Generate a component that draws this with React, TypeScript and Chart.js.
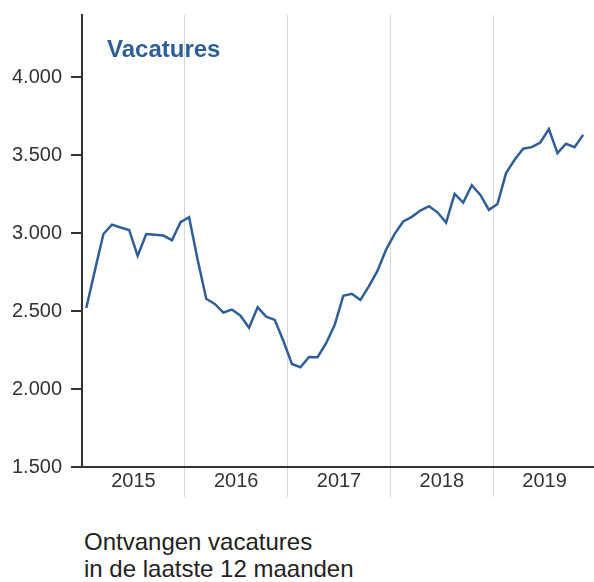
import React, { useEffect, useRef } from 'react';
import { Chart, registerables } from 'chart.js';

Chart.register(...registerables);

const YEARS = ['2015', '2016', '2017', '2018', '2019'];
const MONTHS_TOTAL = 60;
// Monthly values Jan 2015 – Nov 2019
const VACATURES = [
  2520, 2760, 2995, 3055, 3037, 3021, 2855, 2995, 2990, 2985, 2955, 3071,
  3103, 2830, 2579, 2546, 2491, 2510, 2471, 2394, 2525, 2465, 2444, 2310,
  2161, 2140, 2206, 2204, 2294, 2412, 2598, 2611, 2572, 2660, 2760, 2895,
  2996, 3075, 3105, 3145, 3173, 3134, 3068, 3253, 3197, 3308, 3246, 3150,
  3188, 3386, 3471, 3542, 3552, 3582, 3668, 3514, 3574, 3552, 3631,
];
const Y_TICK_VALUES = [1500, 2000, 2500, 3000, 3500, 4000];
const Y_TICK_LABELS = ['1.500', '2.000', '2.500', '3.000', '3.500', '4.000'];
const Y_MIN = 1500;
const Y_MAX = 4400;
const TITLE = 'Vacatures';
const CAPTION = ['Ontvangen vacatures', 'in de laatste 12 maanden'];

const FONT = '"Liberation Sans", Arial, Helvetica, sans-serif';
const BLUE = '#2f5f96';

export default function App() {
  const ref = useRef<HTMLCanvasElement | null>(null);

  useEffect(() => {
    if (!ref.current) return;
    const titlePlugin = {
      id: 'innerTitle',
      afterDraw(chart: any) {
        const ctx = chart.ctx;
        ctx.save();
        ctx.font = `bold 24px ${FONT}`;
        ctx.fillStyle = BLUE;
        ctx.textAlign = 'left';
        ctx.textBaseline = 'alphabetic';
        ctx.fillText(TITLE, 107, 57);
        ctx.restore();
      },
    };
    const chart = new Chart(ref.current, {
      type: 'line',
      data: {
        labels: YEARS,
        datasets: [
          {
            data: VACATURES.map((v, i) => ({ x: i + 0.5, y: v })),
            xAxisID: 'xm',
            yAxisID: 'y',
            borderColor: BLUE,
            borderWidth: 2.5,
            pointRadius: 0,
            tension: 0,
            fill: false,
          },
        ],
      },
      options: {
        animation: false,
        responsive: false,
        maintainAspectRatio: false,
        layout: { padding: { top: 15, left: 0, right: 0, bottom: 0 } },
        plugins: { legend: { display: false }, tooltip: { enabled: false }, title: { display: false } },
        scales: {
          x: {
            type: 'category',
            position: 'bottom',
            offset: true,
            grid: {
              offset: true,
              color: (c: any) => (c.type === 'tick' && c.index > 0 ? '#d8d8d8' : 'rgba(0,0,0,0)'),
              lineWidth: 1,
              tickLength: 30,
              drawTicks: true,
            },
            border: { display: true, color: '#333333', width: 2 },
            ticks: {
              font: { family: FONT, size: 20 },
              color: '#333333',
              padding: -28,
              maxRotation: 0,
            },
            afterFit: (s: any) => {
              s.height = 43;
              s.paddingLeft = 0;
              s.paddingRight = 0;
            },
          },
          xm: {
            type: 'linear',
            display: false,
            min: 0,
            max: MONTHS_TOTAL,
          },
          y: {
            type: 'linear',
            min: Y_MIN,
            max: Y_MAX,
            afterBuildTicks: (s: any) => {
              s.ticks = Y_TICK_VALUES.map((v) => ({ value: v }));
            },
            ticks: {
              font: { family: FONT, size: 20 },
              color: '#333333',
              padding: 9,
              callback: (v: any) => {
                const i = Y_TICK_VALUES.indexOf(Number(v));
                return i >= 0 ? Y_TICK_LABELS[i] : '';
              },
            },
            grid: {
              drawOnChartArea: false,
              drawTicks: true,
              tickLength: 11,
              color: '#333333',
              lineWidth: 2,
            },
            border: { display: true, color: '#333333', width: 2 },
            afterFit: (s: any) => {
              s.width = 82;
              s.paddingTop = 0;
              s.paddingBottom = 0;
            },
          },
        },
      },
      plugins: [titlePlugin],
    } as any);
    return () => chart.destroy();
  }, []);

  return (
    <div
      style={{
        position: 'absolute',
        left: 0,
        top: 0,
        width: 594,
        height: 582,
        overflow: 'hidden',
        background: '#ffffff',
      }}
    >
      <canvas ref={ref} width={596} height={510} style={{ position: 'absolute', left: 0, top: 0, width: 596, height: 510 }} />
      <div
        style={{
          position: 'absolute',
          left: 84,
          top: 528,
          fontFamily: FONT,
          fontSize: 24,
          lineHeight: '27px',
          color: '#222222',
          whiteSpace: 'nowrap',
        }}
      >
        {CAPTION[0]}
        <br />
        {CAPTION[1]}
      </div>
    </div>
  );
}
